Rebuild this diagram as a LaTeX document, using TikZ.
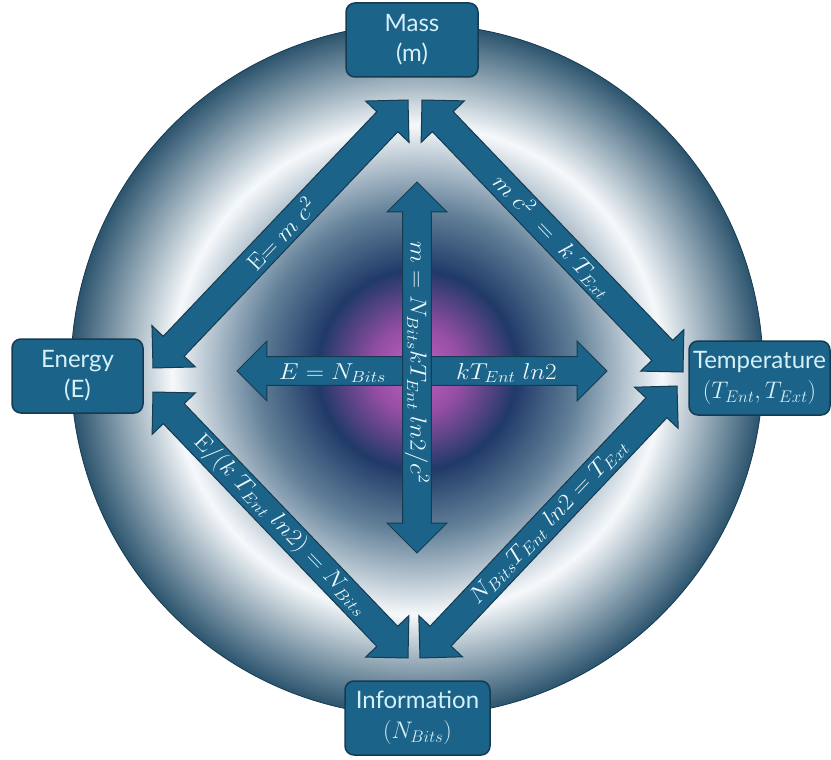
\RequirePackage{fix-cm}
\documentclass[tikz,border=0pt]{standalone}
\usepackage[no-math]{fontspec}
\newfontfamily\quantityfont{Lato}
\usetikzlibrary{calc}

\definecolor{boxblue}{RGB}{27,99,137}
\definecolor{boxline}{RGB}{22,58,80}
\definecolor{boxtext}{RGB}{214,240,248}
\definecolor{glowpink}{RGB}{194,98,194}
\definecolor{glowpurple}{RGB}{150,78,165}
\definecolor{deepnavy}{RGB}{32,58,104}
\definecolor{steel}{RGB}{98,128,152}
\definecolor{haze}{RGB}{246,249,251}
\definecolor{rim}{RGB}{44,84,110}

\pgfdeclareradialshading{halo}{\pgfpoint{0bp}{0bp}}{%
  color(0bp)=(glowpink); color(3.2bp)=(glowpurple); color(7.2bp)=(deepnavy);
  color(11.6bp)=(steel); color(17.7bp)=(haze); color(25bp)=(rim); color(50bp)=(rim)}

\tikzstyle{quantity}=[draw=boxline,line width=1.5pt,fill=boxblue,rounded corners=9pt,
  text=boxtext,align=center,minimum height=74pt,inner sep=3pt,
  font={\quantityfont\fontsize{24}{30}\selectfont}]
\tikzstyle{arrowbody}=[draw=boxline,line width=1pt,fill=boxblue,line join=miter]
\tikzstyle{eqn}=[text=boxtext!40!white,inner sep=0pt,font={\fontsize{23}{27}\selectfont}]

% widened math for the arrow labels
\newcommand\formula[1]{\scalebox{1.1}[1]{$#1$}}

% double headed block arrow between two named points
\newcommand\blockarrow[2]{%
  \draw[arrowbody] let \p1=($(#2)-(#1)$), \n1={atan2(\y1,\x1)} in
    (#1) -- ++(\n1+45:42.4pt) -- ++(\n1-90:15.5pt)
    -- ($(#2)+(\n1+135:42.4pt)+(\n1-90:15.5pt)$) -- ($(#2)+(\n1+135:42.4pt)$)
    -- (#2) -- ($(#2)+(\n1-135:42.4pt)$) -- ++(\n1+90:15.5pt)
    -- ($(#1)+(\n1-45:42.4pt)+(\n1+90:15.5pt)$) -- ($(#1)+(\n1-45:42.4pt)$) -- cycle;}

\begin{document}
\begin{tikzpicture}[x=1pt,y=-1pt]
  \useasboundingbox (0,0) rectangle (831,760);
  \fill[white] (0,0) rectangle (831,760);

  \coordinate (hub) at (417,370);
  \shade[shading=halo,draw=boxline,line width=0.8pt] (hub) circle[radius=346pt];

  % free ends of the arrows
  \coordinate (E1) at (153,368);
  \coordinate (E2) at (153,392);
  \coordinate (M1) at (408,100);
  \coordinate (M2) at (422,100);
  \coordinate (T1) at (683,372);
  \coordinate (T2) at (677,386);
  \coordinate (I1) at (408,658);
  \coordinate (I2) at (420,658);
  \coordinate (hubL) at (237,371);
  \coordinate (hubR) at (607,371);
  \coordinate (hubT) at (417,182);
  \coordinate (hubB) at (417,553);

  \blockarrow{E1}{M1}
  \path (E1) -- node[eqn,sloped] {\formula{\mathrm{E}{=}\;m\;c^2}} (M1);
  \blockarrow{M2}{T1}
  \path (M2) -- node[eqn,sloped] {\formula{m\;c^2 \;=\; k\;T_{Ext}}} (T1);
  \blockarrow{E2}{I1}
  \path (E2) -- node[eqn,sloped] {\formula{\mathrm{E}/(k\;T_{Ent}\;ln2) = N_{Bits}}} (I1);
  \blockarrow{I2}{T2}
  \path (I2) -- node[eqn,sloped] {\formula{N_{Bits}T_{Ent}\;ln2 = T_{Ext}}} (T2);

  \blockarrow{hubL}{hubR}
  \node[eqn,anchor=base east] (lhs) at (386,379) {\formula{E = N_{Bits}}};
  \node[eqn,anchor=base west] (rhs) at (456,379) {\formula{kT_{Ent}\;ln2}};
  \blockarrow{hubT}{hubB}
  \path (hubT) -- node[eqn,rotate=-90,pos=0.487] {\formula{m = N_{Bits}kT_{Ent}\;ln2/c^2}} (hubB);

  \node[quantity,minimum width=132pt] (mass) at (412,40) {Mass\\(m)};
  \node[quantity,minimum width=131pt] (energy) at (77.5,376) {Energy\\(E)};
  \node[quantity,minimum width=141pt] (temperature) at (759.5,378) {Temperature\\$(T_{Ent}, T_{Ext})$};
  \node[quantity,minimum width=145pt] (information) at (417.5,718) {Information\\$(N_{Bits})$};
\end{tikzpicture}
\end{document}
